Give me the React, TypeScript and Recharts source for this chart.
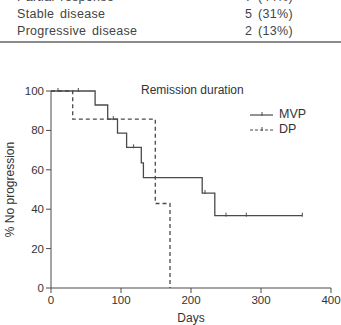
import React from 'react';
import { LineChart, Line, XAxis, YAxis } from 'recharts';

// Kaplan-Meier steps: day, % no progression, censored flag
const mvpDays = [0, 39, 63, 81, 89, 95, 108, 118, 129, 132, 216, 220, 234, 250, 279, 359];
const mvpPct = [100, 100, 92.9, 85.7, 85.7, 78.6, 71.4, 71.4, 63.5, 56, 48.2, 48.2, 36.7, 36.7, 36.7, 36.7];
const mvpCensored = [0, 1, 0, 0, 1, 0, 0, 1, 0, 0, 0, 1, 0, 1, 1, 1];

const dpDays = [0, 10, 31, 149, 170];
const dpPct = [100, 100, 85.7, 42.9, 0];
const dpCensored = [0, 1, 0, 0, 0];

const xTicks = [0, 100, 200, 300, 400];
const yTicks = [0, 20, 40, 60, 80, 100];

const responseRows = [
  { label: 'Partial response', count: '7 (44%)' },
  { label: 'Stable disease', count: '5 (31%)' },
  { label: 'Progressive disease', count: '2 (13%)' },
];

const toRows = (days: number[], pct: number[], cens: number[]) =>
  days.map((d, i) => ({ day: d, pct: pct[i], censored: cens[i] === 1 }));

const mvpData = toRows(mvpDays, mvpPct, mvpCensored);
const dpData = toRows(dpDays, dpPct, dpCensored);

const INK = '#4a4a4a';
const FONT = 'Arial, "Liberation Sans", Helvetica, sans-serif';

const CensorTick = (props: any) => {
  const { cx, cy, payload, index } = props;
  if (!payload?.censored || cx == null || cy == null) return <g key={`n-${index}`} />;
  return (
    <line
      key={`c-${index}`}
      x1={cx}
      x2={cx}
      y1={cy - 3}
      y2={cy + 1}
      stroke={INK}
      strokeWidth={1}
    />
  );
};

const AXIS_TICK = { fontSize: 11.5, fill: '#333', fontFamily: FONT };

export default function App() {
  return (
    <div
      style={{
        position: 'absolute',
        left: 0,
        top: 0,
        width: 341,
        height: 325,
        overflow: 'hidden',
        background: '#fff',
        fontFamily: FONT,
        color: '#444',
      }}
    >
      {/* table fragment above the chart */}
      {responseRows.map((r, i) => (
        <div
          key={r.label}
          style={{
            position: 'absolute',
            top: -11 + i * 17,
            left: 0,
            width: 341,
            height: 17,
            fontSize: 12.5,
            lineHeight: '17px',
            letterSpacing: 0.3,
            wordSpacing: 2,
            whiteSpace: 'nowrap',
          }}
        >
          <span style={{ position: 'absolute', left: 17, top: 0 }}>{r.label}</span>
          <span style={{ position: 'absolute', left: 245, top: 0 }}>{r.count}</span>
        </div>
      ))}
      <div style={{ position: 'absolute', top: 41, left: 0, width: 341, height: 2, background: '#8a8a8a' }} />

      <div style={{ position: 'absolute', left: 0, top: 0 }}>
        <LineChart width={341} height={325} margin={{ top: 91, right: 10, bottom: 0, left: 0 }}>
          <XAxis
            type="number"
            dataKey="day"
            domain={[0, 400]}
            ticks={xTicks}
            allowDataOverflow
            tick={AXIS_TICK}
            tickSize={5}
            tickMargin={3}
            stroke={INK}
            height={37}
            label={{ value: 'Days', position: 'insideBottom', offset: 3, fontSize: 12, fill: '#333', fontFamily: FONT }}
          />
          <YAxis
            type="number"
            dataKey="pct"
            domain={[0, 100]}
            ticks={yTicks}
            tick={AXIS_TICK}
            tickSize={5}
            tickMargin={2}
            stroke={INK}
            width={51}
            label={{
              value: '% No progression',
              angle: -90,
              position: 'insideLeft',
              offset: 10,
              style: { textAnchor: 'middle' },
              fontSize: 12,
              fill: '#333',
              fontFamily: FONT,
            }}
          />
          <Line
            data={mvpData}
            dataKey="pct"
            type="stepAfter"
            stroke={INK}
            strokeWidth={1.3}
            dot={CensorTick}
            activeDot={false}
            isAnimationActive={false}
          />
          <Line
            data={dpData}
            dataKey="pct"
            type="stepAfter"
            stroke={INK}
            strokeWidth={1.3}
            strokeDasharray="4 3"
            dot={CensorTick}
            activeDot={false}
            isAnimationActive={false}
          />
        </LineChart>
      </div>

      {/* title and legend */}
      <div style={{ position: 'absolute', left: 141, top: 83, fontSize: 12, color: '#333', whiteSpace: 'nowrap' }}>
        Remission duration
      </div>
      <svg style={{ position: 'absolute', left: 248, top: 106 }} width={30} height={30}>
        <line x1={2} x2={25} y1={9} y2={9} stroke={INK} strokeWidth={1.2} />
        <line x1={14} x2={14} y1={6} y2={10} stroke={INK} strokeWidth={1} />
        <line x1={2} x2={25} y1={24} y2={24} stroke={INK} strokeWidth={1.2} strokeDasharray="3 2" />
        <line x1={14} x2={14} y1={21} y2={25} stroke={INK} strokeWidth={1} />
      </svg>
      <div style={{ position: 'absolute', left: 279, top: 107, fontSize: 12.5, color: '#333', lineHeight: '15px' }}>
        MVP
        <br />
        DP
      </div>
    </div>
  );
}
